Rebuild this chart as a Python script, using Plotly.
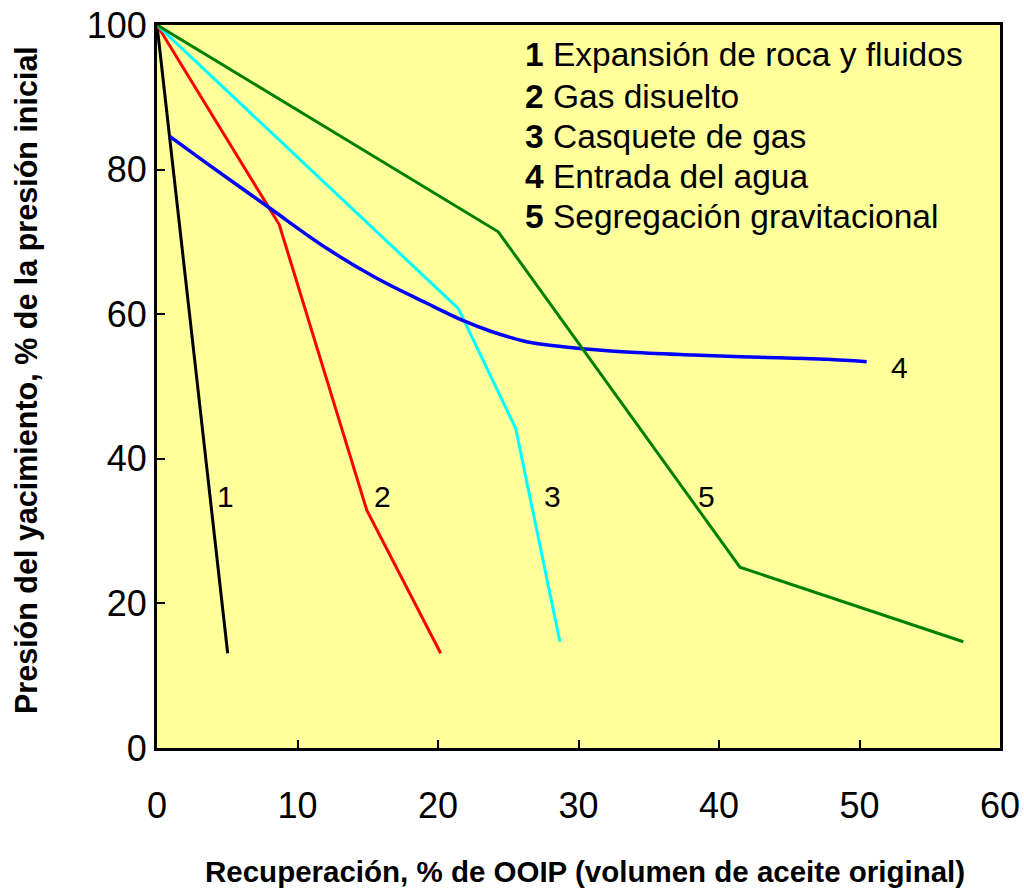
import plotly.graph_objects as go

# ---- data ----
x1 = [0.0, 5.03]
y1 = [100.0, 13.1]

x2 = [0.0, 8.70, 14.93, 20.19]
y2 = [100.0, 72.4, 32.9, 13.1]

x3 = [0.0, 21.44, 25.53, 28.68]
y3 = [100.0, 60.8, 44.2, 14.7]

x4 = [0.93, 3.77, 8.04, 12.08, 15.64, 19.20, 21.80, 23.70, 26.31, 29.40, 33.43, 38.17, 42.92, 47.67, 50.51]
y4 = [84.55, 80.55, 74.65, 69.11, 64.96, 61.51, 59.10, 57.68, 56.20, 55.40, 54.77, 54.36, 54.04, 53.76, 53.43]

x5 = [0.0, 24.29, 41.49, 57.39]
y5 = [100.0, 71.4, 25.0, 14.7]

curve_labels = ["1", "2", "3", "4", "5"]
label_x = [4.91, 16.04, 28.14, 52.88, 39.1]
label_y = [34.85, 34.76, 34.76, 52.56, 34.85]

legend_nums = ["1", "2", "3", "4", "5"]
legend_texts = ["Expansión de roca y fluidos", "Gas disuelto", "Casquete de gas",
                "Entrada del agua", "Segregación gravitacional"]

x_ticks = [0, 10, 20, 30, 40, 50, 60]
y_ticks = [0, 20, 40, 60, 80, 100]

FONT = "Liberation Sans, Arial, sans-serif"

fig = go.Figure()
series = [(x1, y1, "black", 3, "linear"),
          (x2, y2, "#FF0000", 3, "linear"),
          (x3, y3, "#00FFFF", 3, "linear"),
          (x4, y4, "#0000FF", 3.5, "spline"),
          (x5, y5, "#008000", 3, "linear")]
for xs, ys, c, w, shp in series:
    line = dict(color=c, width=w, shape=shp)
    if shp == "spline":
        line["smoothing"] = 1.0
    fig.add_trace(go.Scatter(x=xs, y=ys, mode="lines", line=line,
                             showlegend=False, hoverinfo="skip"))

for t, lx, ly in zip(curve_labels, label_x, label_y):
    fig.add_annotation(x=lx, y=ly, xref="x", yref="y", text=t, showarrow=False,
                       font=dict(family=FONT, size=30, color="black"))

L, R, T, B = 157, 1000, 25, 748
pw, ph = R - L, B - T
leg_y = [55, 96.7, 136.7, 176.7, 216.7]
for n, t, py in zip(legend_nums, legend_texts, leg_y):
    fig.add_annotation(x=(523 - L) / pw, y=(B - py) / ph, xref="paper", yref="paper",
                       text=f"<b>{n}</b> {t}", showarrow=False, xanchor="left", yanchor="middle",
                       font=dict(family=FONT, size=33.5, color="black"))

fig.add_annotation(x=(585 - L) / pw, y=(B - 871) / ph, xref="paper", yref="paper",
                   text="<b>Recuperación, % de OOIP (volumen de aceite original)</b>",
                   showarrow=False, xanchor="center", yanchor="middle",
                   font=dict(family=FONT, size=29.5, color="black"))
fig.add_annotation(x=(26 - L) / pw, y=(B - 380) / ph, xref="paper", yref="paper",
                   text="<b>Presión del yacimiento, % de la presión inicial</b>",
                   showarrow=False, textangle=-90, xanchor="center", yanchor="middle",
                   font=dict(family=FONT, size=30.5, color="black"))

fig.update_layout(
    width=1024, height=891,
    margin=dict(l=L, r=1024 - R, t=T, b=891 - B),
    paper_bgcolor="white",
    plot_bgcolor="#FFFF9C",
    xaxis=dict(range=[0, 60], tickvals=x_ticks, ticks="inside", ticklen=8, tickwidth=1.5,
               tickcolor="black", showline=True, linecolor="black", linewidth=3, mirror=True,
               showgrid=False, zeroline=False, ticklabelstandoff=24, automargin=False,
               tickfont=dict(family=FONT, size=36, color="black")),
    yaxis=dict(range=[0, 100], tickvals=y_ticks, ticks="inside", ticklen=8, tickwidth=1.5,
               tickcolor="black", showline=True, linecolor="black", linewidth=3, mirror=True,
               showgrid=False, zeroline=False, ticklabelstandoff=0, automargin=False,
               tickfont=dict(family=FONT, size=36, color="black")),
)

fig.write_html("out.html", config={"displayModeBar": False},
               post_script="document.body.style.margin='0';document.body.style.overflow='hidden';")
